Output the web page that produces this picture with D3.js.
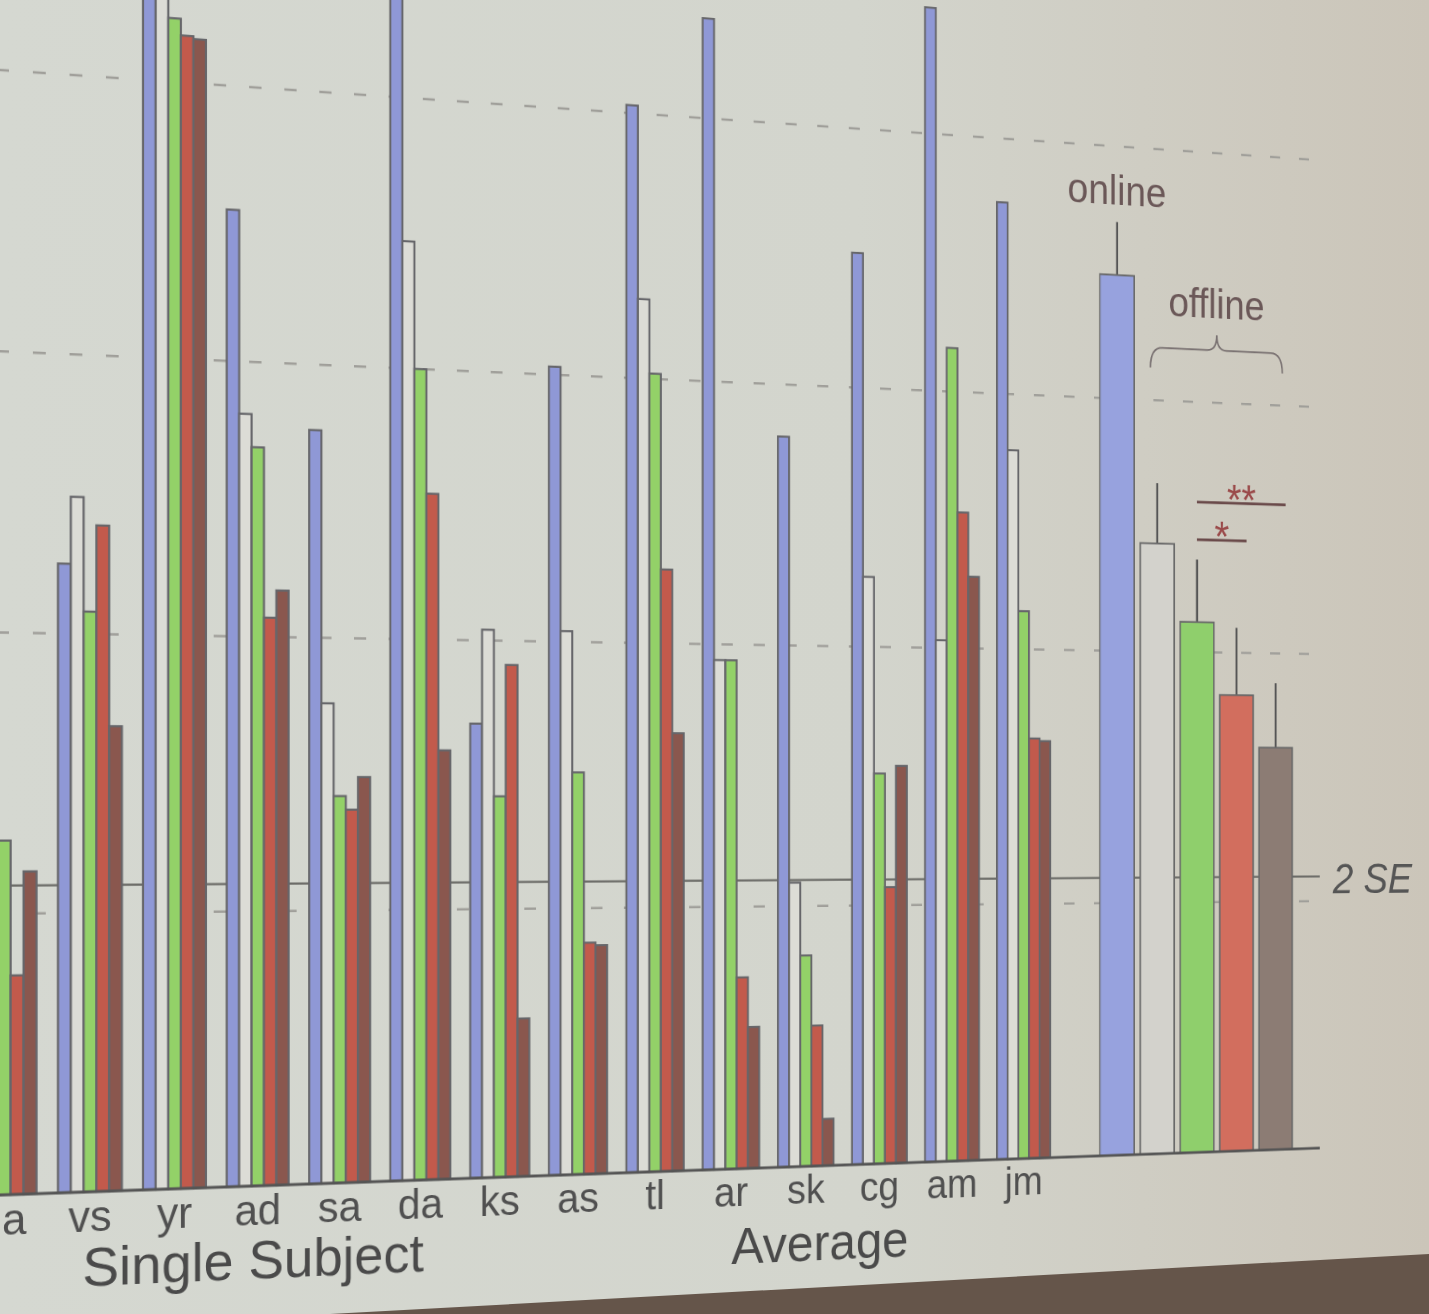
<!DOCTYPE html>
<html>
<head>
<meta charset="utf-8">
<script src="https://cdn.jsdelivr.net/npm/d3@7"></script>
<style>
html, body { margin: 0; padding: 0; width: 1429px; height: 1314px; overflow: hidden; }
body {
    position: relative;
    background: linear-gradient(90deg, #d5d8d1 0%, #d3d5cd 60%, #cbc5b9 100%);
}
#backdrop { position: absolute; left: 0; top: 0; }
#chart { position: absolute; left: 0; top: 0; transform-origin: 0 0; }
text { font-family: "Liberation Sans", Arial, sans-serif; }
</style>
</head>
<body>
<svg id="backdrop" width="1429" height="1314"></svg>
<svg id="chart" width="2100" height="1750"></svg>
<script>
// ----------------------
// data (units = dashed grid steps)
// ----------------------
const subjects = ["a", "vs", "yr", "ad", "sa", "da", "ks", "as", "tl", "ar", "sk", "cg", "am", "jm"];
const conditions = ["online", "off1", "off2", "off3", "off4"];

const onlineVals = [3.20, 2.25, 4.70, 3.55, 2.76, 4.50, 1.69, 3.03, 4.03, 4.38, 2.80, 3.52, 4.49, 3.75];
const off1Vals   = [1.67, 2.49, 4.50, 2.81, 1.76, 3.47, 2.04, 2.04, 3.30, 1.94, 1.09, 2.27, 2.03, 2.78];
const off2Vals   = [1.26, 2.08, 4.23, 2.69, 1.42, 3.00, 1.42, 1.51, 3.02, 1.94, 0.81, 1.51, 3.17, 2.15];
const off3Vals   = [0.78, 2.39, 4.17, 2.07, 1.37, 2.54, 1.91, 0.87, 2.28, 0.73, 0.54, 1.07, 2.53, 1.65];
const off4Vals   = [1.15, 1.67, 4.16, 2.17, 1.49, 1.59, 0.59, 0.86, 1.66, 0.54, 0.18, 1.54, 2.28, 1.64];

const avgVals = [3.49, 2.43, 2.12, 1.83, 1.62];
const avgErr  = [0.21, 0.24, 0.25, 0.27, 0.26];

const gridLevels = [1, 2, 3, 4];
const seLevel = 1.1;

const subjectColors = ["#8f98d6", "#dcdcd6", "#93d168", "#c25a4c", "#8a574e"];
const averageColors = ["#97a2de", "#d3d2cc", "#8fcf6c", "#d26e5e", "#8c7c74"];

// ----------------------
// backdrop: lower edge of the projection screen
// ----------------------
d3.select("#backdrop").append("polygon")
    .attr("points", "330,1314 1429,1254 1429,1314")
    .attr("fill", "#65554a");

// ----------------------
// flat chart + perspective of the photo
// ----------------------
const OX = 300, OY = 300;
const K = 9.24e-5, SH = 0.07485;

const svg = d3.select("#chart")
    .style("transform",
        `matrix3d(1,${SH},0,${K},0,1,0,0,0,0,1,0,${-OX},${-SH * OX - OY},0,${1 - K * OX})`);

const g = svg.append("g").attr("transform", `translate(${OX},${OY})`);

const yScale = d3.scaleLinear().domain([0, 4]).range([1195, 70]);

const groupStep = 86.65;
const xGroup = d3.scaleBand()
    .domain(subjects)
    .range([-28.35, -28.35 + groupStep * 13.75])
    .paddingInner(0.25)
    .paddingOuter(0);

const xSeries = d3.scaleBand()
    .domain(conditions)
    .range([0, xGroup.bandwidth()]);

const xAvg = d3.scaleBand()
    .domain(conditions)
    .range([1224.4, 1224.4 + 50.1 * 4.85])
    .paddingInner(0.15)
    .paddingOuter(0);

const xLeft = -300, xRight = 1503;

// dashed grid
g.selectAll(".grid")
    .data(gridLevels)
    .enter().append("line")
    .attr("class", "grid")
    .attr("x1", xLeft).attr("x2", xRight)
    .attr("y1", d => yScale(d)).attr("y2", d => yScale(d))
    .attr("stroke", "#a09f9a")
    .attr("stroke-width", 2.5)
    .attr("stroke-dasharray", "13 24");

// 2 SE line
g.append("line")
    .attr("x1", xLeft).attr("x2", xRight)
    .attr("y1", yScale(seLevel)).attr("y2", yScale(seLevel))
    .attr("stroke", "#6a6a66")
    .attr("stroke-width", 2.2);

g.append("text")
    .attr("x", 1520)
    .attr("y", yScale(1.03))
    .attr("font-size", 48)
    .attr("font-style", "italic")
    .attr("fill", "#555")
    .text("2 SE");

// single subject bars
const seriesVals = [onlineVals, off1Vals, off2Vals, off3Vals, off4Vals];
const rows = subjects.map((s, i) => ({
    subject: s,
    values: conditions.map((c, j) => ({ cond: c, idx: j, value: seriesVals[j][i] }))
}));

const groups = g.selectAll(".subj")
    .data(rows)
    .enter().append("g")
    .attr("class", "subj")
    .attr("transform", d => `translate(${xGroup(d.subject)},0)`);

groups.selectAll("rect")
    .data(d => d.values)
    .enter().append("rect")
    .attr("x", d => xSeries(d.cond))
    .attr("y", d => yScale(d.value))
    .attr("width", xSeries.bandwidth())
    .attr("height", d => yScale(0) - yScale(d.value))
    .attr("fill", d => subjectColors[d.idx])
    .attr("stroke", "#66666a")
    .attr("stroke-width", 2.2);

// average bars + error bars
const avgRows = conditions.map((c, j) => ({ cond: c, idx: j, value: avgVals[j], err: avgErr[j] }));

g.selectAll(".err")
    .data(avgRows)
    .enter().append("line")
    .attr("class", "err")
    .attr("x1", d => xAvg(d.cond) + xAvg.bandwidth() / 2)
    .attr("x2", d => xAvg(d.cond) + xAvg.bandwidth() / 2)
    .attr("y1", d => yScale(d.value))
    .attr("y2", d => yScale(d.value + d.err))
    .attr("stroke", "#555")
    .attr("stroke-width", 2.6);

g.selectAll(".avg")
    .data(avgRows)
    .enter().append("rect")
    .attr("class", "avg")
    .attr("x", d => xAvg(d.cond))
    .attr("y", d => yScale(d.value))
    .attr("width", xAvg.bandwidth())
    .attr("height", d => yScale(0) - yScale(d.value))
    .attr("fill", d => averageColors[d.idx])
    .attr("stroke", "#6a6a6a")
    .attr("stroke-width", 2);

// baseline
g.append("line")
    .attr("x1", xLeft).attr("x2", xRight)
    .attr("y1", yScale(0)).attr("y2", yScale(0))
    .attr("stroke", "#555")
    .attr("stroke-width", 3);

// subject tick labels (first one sits at the photo's left edge)
const xAxis = d3.axisBottom(xGroup).tickSize(0).tickPadding(0);
g.append("g")
    .attr("transform", `translate(0,${yScale(0)})`)
    .call(xAxis)
    .call(a => a.select(".domain").remove())
    .call(a => a.selectAll("text")
        .attr("y", 40)
        .attr("dy", 0)
        .attr("dx", (d, i) => i === 0 ? 10 : 0)
        .attr("font-size", 44)
        .attr("font-family", "Liberation Sans, Arial, sans-serif")
        .attr("fill", "#505050"));

g.append("text")
    .attr("x", 262).attr("y", 1290)
    .attr("text-anchor", "middle")
    .attr("font-size", 56)
    .attr("fill", "#4a4a4a")
    .text("Single Subject");

g.append("text")
    .attr("x", 888).attr("y", 1297)
    .attr("text-anchor", "middle")
    .attr("font-size", 56)
    .attr("fill", "#4a4a4a")
    .text("Average");

// online / offline annotations
const bw = xAvg.bandwidth();
const cx = c => xAvg(c) + bw / 2;

g.append("text")
    .attr("x", cx("online")).attr("y", yScale(3.77))
    .attr("text-anchor", "middle")
    .attr("font-size", 46)
    .attr("fill", "#6b5858")
    .text("online");

const bx0 = xAvg("off1") + bw * 0.3;
const bx1 = xAvg("off4") + bw * 0.7;
const bxm = (bx0 + bx1) / 2;

g.append("text")
    .attr("x", bxm).attr("y", yScale(3.34))
    .attr("text-anchor", "middle")
    .attr("font-size", 46)
    .attr("fill", "#6b5858")
    .text("offline");

const yArm = yScale(3.21), yEnd = yScale(3.13), yTip = yScale(3.27);
g.append("path")
    .attr("d", `M${bx0},${yEnd} Q${bx0},${yArm} ${bx0 + 15},${yArm} L${bxm - 12},${yArm}
                Q${bxm},${yArm} ${bxm},${yTip} Q${bxm},${yArm} ${bxm + 12},${yArm}
                L${bx1 - 15},${yArm} Q${bx1},${yArm} ${bx1},${yEnd}`)
    .attr("fill", "none")
    .attr("stroke", "#7a7272")
    .attr("stroke-width", 2);

// significance markers
const sig = [
    { from: "off2", to: "off4", level: 2.60, label: "**" },
    { from: "off2", to: "off3", level: 2.45, label: "*" }
];

g.selectAll(".sig")
    .data(sig)
    .enter().append("line")
    .attr("class", "sig")
    .attr("x1", d => cx(d.from))
    .attr("x2", d => xAvg(d.to) + bw * 0.8)
    .attr("y1", d => yScale(d.level))
    .attr("y2", d => yScale(d.level))
    .attr("stroke", "#6a4a4a")
    .attr("stroke-width", 3);

g.selectAll(".star")
    .data(sig)
    .enter().append("text")
    .attr("class", "star")
    .attr("x", d => (cx(d.from) + xAvg(d.to) + bw * 0.8) / 2)
    .attr("y", d => yScale(d.level) + 12)
    .attr("text-anchor", "middle")
    .attr("font-size", 48)
    .attr("fill", "#9a4a4a")
    .text(d => d.label);
</script>
</body>
</html>
